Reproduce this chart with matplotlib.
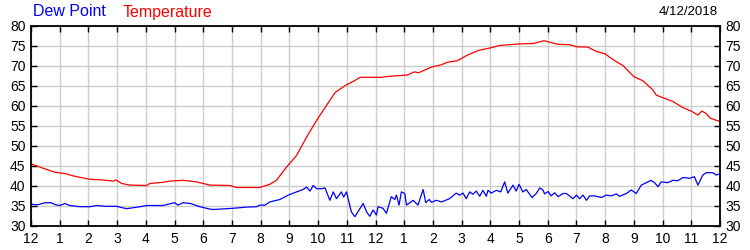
# Dew point and temperature over one day (4/12/2018)

import matplotlib
matplotlib.use("Agg")
import matplotlib.pyplot as plt

# Data (hours since midnight, degrees F)
temp_hours = [0, 0.43, 0.84, 1.18, 1.47, 2.0, 2.46, 2.87, 2.95, 3.16, 3.45, 4.03,
              4.14, 4.6, 4.84, 5.3, 5.77, 6.23, 6.93, 7.16, 7.97, 8.32, 8.55, 8.9,
              9.25, 9.6, 9.95, 10.18, 10.6, 10.95, 11.24, 11.47, 12.0, 12.2, 12.5,
              13.1, 13.35, 13.5, 13.95, 14.3, 14.5, 14.85, 15.2, 15.6, 16.0, 16.32,
              17.0, 17.5, 17.87, 18.35, 18.76, 18.99, 19.4, 19.69, 20.0, 20.33,
              20.62, 21.0, 21.31, 21.66, 21.78, 21.99, 22.36, 22.7, 23.0, 23.23,
              23.37, 23.52, 23.66, 24.0]
temp_f = [45.4, 44.3, 43.3, 43.0, 42.4, 41.6, 41.4, 41.1, 41.4, 40.5, 40.1, 40.0,
          40.5, 40.8, 41.1, 41.3, 40.9, 40.1, 40.0, 39.5, 39.5, 40.3, 41.3, 44.6,
          47.5, 52.1, 56.3, 58.8, 63.3, 65.0, 66.1, 67.05, 67.05, 67.05, 67.3,
          67.6, 68.4, 68.2, 69.6, 70.2, 70.8, 71.2, 72.6, 73.8, 74.4, 75.0,
          75.4, 75.5, 76.2, 75.3, 75.2, 74.7, 74.6, 73.5, 72.9, 71.2,
          70.0, 67.2, 66.2, 63.9, 62.6, 62.0, 61.0, 59.5, 58.6, 57.6,
          58.6, 58.0, 56.8, 56.0]

dew_hours = [0.0, 0.25, 0.49, 0.7, 0.84, 1.0, 1.18, 1.35, 1.7, 2.05, 2.29, 2.6,
             2.98, 3.33, 3.8, 4.03, 4.6, 5.0, 5.12, 5.3, 5.55, 5.88, 6.23, 6.35,
             7.04, 7.51, 7.86, 7.98, 8.15, 8.32, 8.67, 8.96, 9.25, 9.48, 9.6, 9.72,
             9.83, 9.95, 10.12, 10.24, 10.41, 10.53, 10.64, 10.81, 10.89, 10.99,
             11.16, 11.28, 11.57, 11.69, 11.8, 11.92, 12.03, 12.09, 12.26, 12.38,
             12.55, 12.67, 12.73, 12.82, 12.9, 13.02, 13.08, 13.31, 13.48, 13.66,
             13.75, 13.87, 13.95, 14.12, 14.3, 14.58, 14.81, 14.93, 15.05, 15.16,
             15.28, 15.39, 15.51, 15.63, 15.74, 15.86, 15.92, 16.03, 16.21, 16.36,
             16.5, 16.61, 16.79, 16.9, 17.0, 17.13, 17.25, 17.45, 17.6, 17.72,
             17.83, 17.89, 18.01, 18.12, 18.24, 18.36, 18.53, 18.65, 18.88, 19.0,
             19.11, 19.23, 19.35, 19.46, 19.63, 19.87, 20.04, 20.21, 20.39, 20.5,
             20.74, 20.91, 21.08, 21.26, 21.49, 21.6, 21.72, 21.84, 21.95, 22.18,
             22.36, 22.53, 22.71, 22.94, 23.11, 23.23, 23.4, 23.52, 23.75, 23.87,
             24.0]
dew_f = [35.3, 35.2, 35.7, 35.7, 35.2, 35.0, 35.5, 35.0, 34.7, 34.7, 35.0, 34.8,
         34.8, 34.2, 34.7, 35.0, 35.0, 35.7, 35.1, 35.7, 35.5, 34.7, 34.1, 34.0,
         34.3, 34.6, 34.7, 35.1, 35.1, 35.9, 36.5, 37.6, 38.4, 39.0, 39.6, 38.6,
         40.0, 39.2, 39.2, 39.4, 36.3, 38.4, 36.7, 38.4, 37.1, 38.4,
         33.4, 32.2, 35.5, 33.4, 32.3, 33.9, 32.6, 34.7, 34.3, 33.05,
         37.2, 36.5, 37.6, 35.1, 38.4, 38.0, 35.1, 36.3, 35.1, 39.0,
         35.7, 36.5, 35.8, 36.3, 35.9, 36.7, 38.1, 37.6, 38.1, 36.7,
         38.4, 37.8, 38.6, 37.3, 38.8, 37.3, 38.8, 38.1, 38.8, 38.4,
         40.9, 38.1, 40.1, 38.6, 40.3, 38.4, 39.0, 37.0, 38.0, 39.4,
         38.9, 37.9, 38.5, 37.4, 38.2, 37.2, 38.0, 38.0, 36.7, 37.6,
         36.7, 37.6, 36.3, 37.4, 37.4, 37.0, 37.6, 37.4, 37.9, 37.3,
         38.0, 38.9, 38.0, 40.1, 40.9, 41.3, 40.7, 39.7, 40.9, 40.7,
         41.3, 41.2, 42.0, 41.8, 42.2, 40.1, 42.6, 43.2, 43.2, 42.6,
         43.0]

hour_labels = ["12", "1", "2", "3", "4", "5", "6", "7", "8", "9", "10", "11",
               "12", "1", "2", "3", "4", "5", "6", "7", "8", "9", "10", "11", "12"]
y_ticks = [30, 35, 40, 45, 50, 55, 60, 65, 70, 75, 80]


def main():
    plt.rcParams["font.family"] = ["Liberation Sans", "DejaVu Sans"]

    fig = plt.figure(figsize=(7.5, 2.5), dpi=100)
    ax = fig.add_axes([31 / 750, 24.5 / 250, 689 / 750, 200 / 250])

    ax.plot(temp_hours, temp_f, color="#ff0000", linewidth=0.9)
    ax.plot(dew_hours, dew_f, color="#0000ff", linewidth=0.9)

    ax.set_xlim(0, 24)
    ax.set_ylim(30, 80)
    ax.set_xticks(range(25))
    ax.set_xticklabels(hour_labels)
    ax.set_yticks(y_ticks)

    ax.grid(True, color="#cccccc", linewidth=1.0)
    ax.set_axisbelow(True)
    for sp in ax.spines.values():
        sp.set_linewidth(1.3)
        sp.set_color("black")

    ax.tick_params(direction="in", length=4, width=1, top=True, right=True,
                   labelright=True, labelsize=10, pad=4)
    ax.tick_params(axis="x", pad=5)

    # legend-like header texts
    fig.text(33 / 750, 1 - 12 / 250, "Dew Point", color="#0000ff",
             fontsize=11.5, va="center", ha="left")
    fig.text(123 / 750, 1 - 12 / 250, "Temperature", color="#ff0000",
             fontsize=11.5, va="center", ha="left")
    fig.text(718 / 750, 1 - 12 / 250, "4/12/2018", color="black",
             fontsize=9.5, va="center", ha="right")

    fig.savefig("out.png", dpi=100)
    plt.close(fig)


if __name__ == "__main__":
    main()
